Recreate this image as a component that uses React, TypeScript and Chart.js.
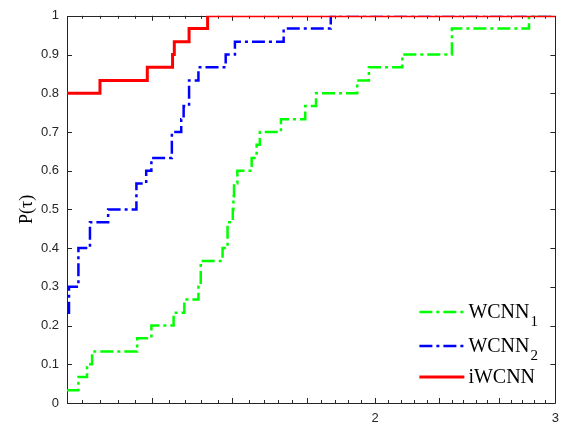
import React, { useEffect, useRef } from "react";
import { Chart, registerables } from "chart.js";

Chart.register(...registerables);

// ---------------- data ----------------
const TAU_WCNN1 = [1, 1.026, 1.046, 1.058, 1.171, 1.209, 1.271, 1.302, 1.344, 1.351, 1.419, 1.435, 1.452, 1.454, 1.456, 1.467, 1.515, 1.532, 1.543, 1.618, 1.709, 1.751, 1.921, 1.972, 2.126, 2.377, 2.827, 3];
const P_WCNN1 = [0.033, 0.067, 0.1, 0.133, 0.167, 0.2, 0.233, 0.267, 0.3, 0.367, 0.4, 0.467, 0.5, 0.533, 0.567, 0.6, 0.633, 0.667, 0.7, 0.733, 0.767, 0.8, 0.833, 0.867, 0.9, 0.967, 1, 1];

const TAU_WCNN2 = [1, 1.0045, 1.026, 1.053, 1.097, 1.169, 1.195, 1.209, 1.266, 1.293, 1.3, 1.316, 1.344, 1.429, 1.459, 1.628, 1.81, 3];
const P_WCNN2 = [0.233, 0.3, 0.4, 0.467, 0.5, 0.567, 0.6, 0.633, 0.7, 0.733, 0.767, 0.833, 0.867, 0.9, 0.933, 0.967, 1, 1];

const TAU_IWCNN = [1, 1.077, 1.198, 1.268, 1.273, 1.316, 1.372, 3];
const P_IWCNN = [0.8, 0.833, 0.867, 0.9, 0.933, 0.967, 1, 1];

const SERIES_NAMES = ["WCNN", "WCNN", "iWCNN"];
const SERIES_SUBS = ["1", "2", ""];

const X_MINOR_TICKS = [1.035, 1.077, 1.122, 1.166, 1.259, 1.304, 1.351, 1.403, 1.505, 1.557, 1.607, 1.659, 1.77, 1.827, 1.883, 1.937, 2.059, 2.121, 2.185, 2.248, 2.375, 2.438, 2.508, 2.574, 2.713, 2.785, 2.858, 2.933];
const X_MAJOR_TICKS = [1.211, 1.45, 1.715, 2, 2.311, 2.642, 3];
const X_TICK_LABELS = [2, 3];
const Y_TICKS = [0, 0.1, 0.2, 0.3, 0.4, 0.5, 0.6, 0.7, 0.8, 0.9, 1];

const COLORS = ["#00ff00", "#0000ff", "#ff0000"];
const WIDTHS = [2.5, 2.5, 3];
const DASHES: number[][] = [[13, 4, 3, 4], [13, 4, 3, 4], []];
const AXIS_COLOR = "#262626";

const toPoints = (xs: number[], ys: number[]) => xs.map((x, i) => ({ x, y: ys[i] }));

const framePlugin = {
  id: "frameTicks",
  beforeDatasetsDraw(chart: any) {
    const { ctx, chartArea: a, scales } = chart;
    const xs = scales.x;
    const ys = scales.y;
    ctx.save();
    ctx.strokeStyle = AXIS_COLOR;
    ctx.lineWidth = 1;
    ctx.beginPath();
    ctx.rect(Math.round(a.left) + 0.5, Math.round(a.top) + 0.5, Math.round(a.right - a.left), Math.round(a.bottom - a.top));
    ctx.stroke();
    const drawX = (vals: number[], len: number) => {
      vals.forEach((v) => {
        const px = Math.round(xs.getPixelForValue(v)) + 0.5;
        ctx.beginPath();
        ctx.moveTo(px, a.bottom);
        ctx.lineTo(px, a.bottom - len);
        ctx.moveTo(px, a.top);
        ctx.lineTo(px, a.top + len);
        ctx.stroke();
      });
    };
    drawX(X_MINOR_TICKS, 3);
    drawX(X_MAJOR_TICKS, 5);
    Y_TICKS.forEach((v) => {
      const py = Math.round(ys.getPixelForValue(v)) + 0.5;
      ctx.beginPath();
      ctx.moveTo(a.left, py);
      ctx.lineTo(a.left + 5, py);
      ctx.moveTo(a.right, py);
      ctx.lineTo(a.right - 5, py);
      ctx.stroke();
    });
    ctx.restore();
  },
};

const legendPlugin = {
  id: "customLegend",
  afterDraw(chart: any) {
    const { ctx, chartArea: a } = chart;
    const rowOffsets = [91, 57, 26];
    const x0 = a.right - 136;
    const x1 = a.right - 91;
    ctx.save();
    SERIES_NAMES.forEach((name, i) => {
      const y = a.bottom - rowOffsets[i];
      ctx.beginPath();
      ctx.strokeStyle = COLORS[i];
      ctx.lineWidth = WIDTHS[i];
      ctx.setLineDash(DASHES[i]);
      ctx.moveTo(x0, y);
      ctx.lineTo(x1, y);
      ctx.stroke();
      ctx.setLineDash([]);
      ctx.fillStyle = "#000";
      ctx.textBaseline = "alphabetic";
      ctx.textAlign = "left";
      ctx.font = "20px 'Liberation Serif', 'Times New Roman', serif";
      const tx = x1 + 4;
      const base = y + 6;
      ctx.fillText(name, tx, base);
      const w = ctx.measureText(name).width;
      if (SERIES_SUBS[i]) {
        ctx.font = "15px 'Liberation Serif', 'Times New Roman', serif";
        ctx.fillText(SERIES_SUBS[i], tx + w + 1, base + 8);
      }
    });
    ctx.restore();
  },
};

export default function App() {
  const ref = useRef<HTMLCanvasElement | null>(null);
  useEffect(() => {
    if (!ref.current) return;
    const sans = "'Liberation Sans', Arial, Helvetica, sans-serif";
    const chart = new Chart(ref.current, {
      type: "line",
      data: {
        datasets: [
          { label: "iWCNN", data: toPoints(TAU_IWCNN, P_IWCNN), order: 0 },
          { label: "WCNN2", data: toPoints(TAU_WCNN2, P_WCNN2), order: 1 },
          { label: "WCNN1", data: toPoints(TAU_WCNN1, P_WCNN1), order: 2 },
        ].map((d) => {
          const idx = d.label === "iWCNN" ? 2 : d.label === "WCNN2" ? 1 : 0;
          return {
            ...d,
            borderColor: COLORS[idx],
            backgroundColor: COLORS[idx],
            borderWidth: WIDTHS[idx],
            borderDash: DASHES[idx],
            stepped: "before" as const,
            pointRadius: 0,
            fill: false,
          };
        }),
      },
      options: {
        animation: false,
        responsive: false,
        maintainAspectRatio: false,
        layout: { padding: { top: 14, right: 8, left: 0, bottom: 0 } },
        plugins: { legend: { display: false }, tooltip: { enabled: false } },
        scales: {
          x: {
            type: "logarithmic",
            min: 1,
            max: 3,
            afterBuildTicks: (s: any) => {
              s.ticks = X_TICK_LABELS.map((v) => ({ value: v }));
            },
            ticks: {
              callback: (v: any) => String(v),
              font: { family: sans, size: 13 },
              color: AXIS_COLOR,
              padding: 8,
              maxRotation: 0,
              autoSkip: false,
            },
            grid: { display: false, drawTicks: false },
            border: { display: false },
            afterFit: (s: any) => {
              s.height = 27;
            },
          },
          y: {
            type: "linear",
            min: 0,
            max: 1,
            afterBuildTicks: (s: any) => {
              s.ticks = Y_TICKS.map((v) => ({ value: v }));
            },
            ticks: {
              callback: (v: any) => String(Math.round(Number(v) * 10) / 10),
              font: { family: sans, size: 13 },
              color: AXIS_COLOR,
              padding: 8,
            },
            grid: { display: false, drawTicks: false },
            border: { display: false },
            title: {
              display: true,
              text: "P(τ)",
              font: { family: "'Liberation Serif', 'Times New Roman', serif", size: 18 },
              color: "#000",
              padding: { top: 16, bottom: 0 },
            },
            afterFit: (s: any) => {
              s.width = 67;
            },
          },
        },
      },
      plugins: [framePlugin, legendPlugin],
    });
    return () => chart.destroy();
  }, []);
  return (
    <div style={{ position: "fixed", left: 0, top: 0, width: 567, height: 430, background: "#fff" }}>
      <canvas ref={ref} width={567} height={430} style={{ width: 567, height: 430 }} />
    </div>
  );
}
